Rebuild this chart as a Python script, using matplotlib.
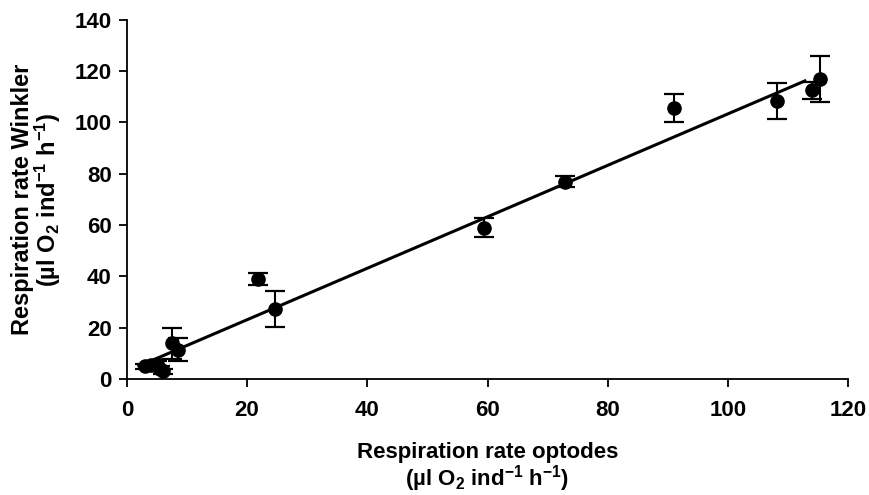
import matplotlib.pyplot as plt
import numpy as np

# Data
optodes = [3.0, 4.0, 5.0, 5.5, 6.0, 7.5, 8.5, 21.8, 24.6, 59.4, 72.9, 91.0, 108.2, 114.0, 115.3]
winkler = [5.0, 5.5, 6.0, 4.0, 3.0, 14.0, 11.5, 39.0, 27.5, 59.0, 77.0, 105.7, 108.2, 112.5, 117.0]
winkler_err = [1.0, 1.0, 1.0, 1.0, 1.0, 6.0, 4.5, 2.5, 7.0, 3.7, 2.0, 5.5, 7.0, 3.2, 9.0]

x_ticks = [0, 20, 40, 60, 80, 100, 120]
y_ticks = [0, 20, 40, 60, 80, 100, 120, 140]

plt.rcParams['font.family'] = ['Liberation Sans', 'DejaVu Sans']
plt.rcParams['font.weight'] = 'bold'
plt.rcParams['mathtext.default'] = 'regular'

fig = plt.figure(figsize=(8.69, 4.95), dpi=100)
ax = fig.add_axes([0.146, 0.234, 0.830, 0.726])

ax.errorbar(optodes, winkler, yerr=winkler_err, fmt='o', color='black',
            markersize=9.5, capsize=7, elinewidth=1.5, capthick=1.6)

# linear regression line
slope, intercept = np.polyfit(optodes, winkler, 1)
xl = np.array([min(optodes) - 1.0, max(optodes) - 2.5])
ax.plot(xl, slope * xl + intercept, color='black', linewidth=2.2)

ax.set_xlim(0, 120)
ax.set_ylim(0, 140)
ax.set_xticks(x_ticks)
ax.set_yticks(y_ticks)
ax.spines['top'].set_visible(False)
ax.spines['right'].set_visible(False)
for s in ['left', 'bottom']:
    ax.spines[s].set_linewidth(1.3)
ax.tick_params(axis='both', direction='out', length=6, width=1.3, labelsize=16)
ax.tick_params(axis='y', pad=5)
ax.tick_params(axis='x', pad=9)
for lbl in ax.get_xticklabels() + ax.get_yticklabels():
    lbl.set_fontweight('bold')

ax.set_xlabel('Respiration rate optodes\n(µl O$_2$ ind$^{-1}$ h$^{-1}$)',
              fontsize=16, fontweight='bold', labelpad=15, linespacing=1.0)
ax.set_ylabel('Respiration rate Winkler\n(µl O$_2$ ind$^{-1}$ h$^{-1}$)',
              fontsize=17, fontweight='bold', labelpad=8, linespacing=0.95)

fig.savefig('out.png', dpi=100)
